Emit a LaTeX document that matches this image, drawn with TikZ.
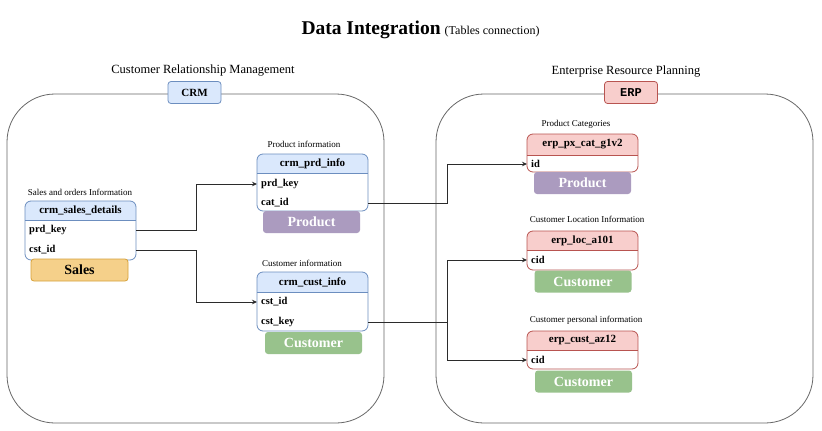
\documentclass[tikz,border=0pt]{standalone}
\usepackage{fontspec}
\setmainfont{Liberation Serif}
\setmonofont{Liberation Mono}
\usetikzlibrary{arrows.meta,calc}
\definecolor{bluefill}{HTML}{DAE8FC}
\definecolor{bluedraw}{HTML}{6C8EBF}
\definecolor{redfill}{HTML}{F8CECC}
\definecolor{reddraw}{HTML}{B85450}
\definecolor{salesfill}{HTML}{F5D08A}
\definecolor{salesdraw}{HTML}{D6A13A}
\definecolor{prodfill}{HTML}{AB9BBF}
\definecolor{custfill}{HTML}{98C28C}
\definecolor{contdraw}{HTML}{666666}
\definecolor{conncol}{HTML}{2B2B2B}
\newcommand{\mktable}[9]{%
  % #1 name, #2 x1, #3 ytop, #4 x2, #5 yhead, #6 ybot, #7 fill, #8 stroke, #9 title
  \fill[white, rounded corners=6] (#2,#3) rectangle (#4,#6);
  \begin{scope}
    \clip[rounded corners=6] (#2,#3) rectangle (#4,#6);
    \fill[#7] (#2,#3) rectangle (#4,#5);
  \end{scope}
  \draw[#8, line width=0.8pt] (#2,#5) -- (#4,#5);
  \draw[#8, line width=0.8pt, rounded corners=6] (#2,#3) rectangle (#4,#6);
  \node[hdr] (#1) at ({(#2+#4)/2},{(#3+#5)/2}) {#9};
}
\begin{document}
\begin{tikzpicture}[x=1pt,y=-1pt,
  hdr/.style={font=\fontsize{11}{12}\selectfont\bfseries, inner sep=0pt},
  rowtxt/.style={font=\fontsize{10.5}{12}\selectfont\bfseries, anchor=west, text width=103pt, inner xsep=4pt, inner ysep=0pt, align=left, minimum height=14pt},
  lbl/.style={font=\fontsize{9}{10}\selectfont, inner sep=0pt},
  ctitle/.style={font=\fontsize{12.5}{14}\selectfont, inner sep=0pt},
  container/.style={draw=contdraw, line width=0.8pt, rounded corners=48},
  tag/.style={rounded corners=3, line width=0.8pt, minimum width=53pt, minimum height=22pt, inner sep=0pt},
  colbox/.style={rounded corners=3, minimum width=97pt, minimum height=22pt, inner sep=0pt, font=\fontsize{14}{16}\selectfont\bfseries},
  conn/.style={draw=conncol, line width=0.8pt},
  arr/.style={conn, -{Stealth[length=5pt,width=4.5pt]}}
]
\useasboundingbox (0,0) rectangle (822,431);

% title
\node[inner sep=0pt] (title) at (420.5,30) {{\fontsize{19.5}{22}\selectfont\bfseries Data Integration}\hspace{4pt}{\fontsize{12}{14}\selectfont (Tables connection)}};

% containers
\node[ctitle] (crmtitle) at (203,71) {Customer Relationship Management};
\node[ctitle] (erptitle) at (626,72) {Enterprise Resource Planning};
\draw[container] (7,94) rectangle (384,423);
\draw[container] (436,94) rectangle (813,423);
\node[tag, fill=bluefill, draw=bluedraw, font=\fontsize{11}{12}\selectfont\bfseries] (crmtag) at (194.5,92.5) {CRM};
\node[tag, fill=redfill, draw=reddraw, font=\fontsize{12}{13}\selectfont\ttfamily\bfseries] (erptag) at (631,92.5) {ERP};

% CRM: sales details
\node[lbl] (sdlbl) at (80,192) {Sales and orders Information};
\mktable{sd}{25}{201}{136}{220}{260}{bluefill}{bluedraw}{crm\_sales\_details}
\node[rowtxt] (sdprd) at (25,230) {prd\_key};
\node[rowtxt] (sdcst) at (25,250) {cst\_id};
\node[colbox, fill=salesfill, draw=salesdraw, line width=0.8pt] (sales) at (79.5,270) {Sales};

% CRM: product info
\node[lbl] (pilbl) at (304,144) {Product information};
\mktable{pi}{257}{154}{368}{173}{211}{bluefill}{bluedraw}{crm\_prd\_info}
\node[rowtxt] (piprd) at (257,184) {prd\_key};
\node[rowtxt] (picat) at (257,203) {cat\_id};
\node[colbox, fill=prodfill, text=white] (prod1) at (311.5,222) {Product};

% CRM: customer info
\node[lbl] (cilbl) at (302,263) {Customer information};
\mktable{ci}{257}{272}{368}{292}{331}{bluefill}{bluedraw}{crm\_cust\_info}
\node[rowtxt] (cicst) at (257,302) {cst\_id};
\node[rowtxt] (cikey) at (257,322) {cst\_key};
\node[colbox, fill=custfill, text=white] (cust1) at (313.5,343) {Customer};

% ERP: product categories
\node[lbl] (pclbl) at (576,124.5) {Product Categories};
\mktable{pc}{527}{134}{638}{155}{172}{redfill}{reddraw}{erp\_px\_cat\_g1v2}
\node[rowtxt] (pcid) at (527,164) {id};
\node[colbox, fill=prodfill, text=white] (prod2) at (582.5,183) {Product};

% ERP: location
\node[lbl] (loclbl) at (587,219) {Customer Location Information};
\mktable{loc}{527}{231}{638}{250}{270}{redfill}{reddraw}{erp\_loc\_a101}
\node[rowtxt] (loccid) at (527,260) {cid};
\node[colbox, fill=custfill, text=white] (cust2) at (583,281.5) {Customer};

% ERP: personal
\node[lbl] (azlbl) at (586,320) {Customer personal information};
\mktable{az}{527}{331}{638}{350}{369}{redfill}{reddraw}{erp\_cust\_az12}
\node[rowtxt] (azcid) at (527,360) {cid};
\node[colbox, fill=custfill, text=white] (cust3) at (583.5,381.5) {Customer};

% connectors
\draw[arr] (sdprd.east) -- ++(60,0) |- (piprd.west);
\draw[arr] (sdcst.east) -- ++(60,0) |- (cicst.west);
\draw[arr] (picat.east) -- ++(79,0) |- (pcid.west);
\draw[arr] (cikey.east) -- ++(79,0) coordinate (junc) |- (loccid.west);
\draw[arr] (junc) |- (azcid.west);
\end{tikzpicture}
\end{document}
